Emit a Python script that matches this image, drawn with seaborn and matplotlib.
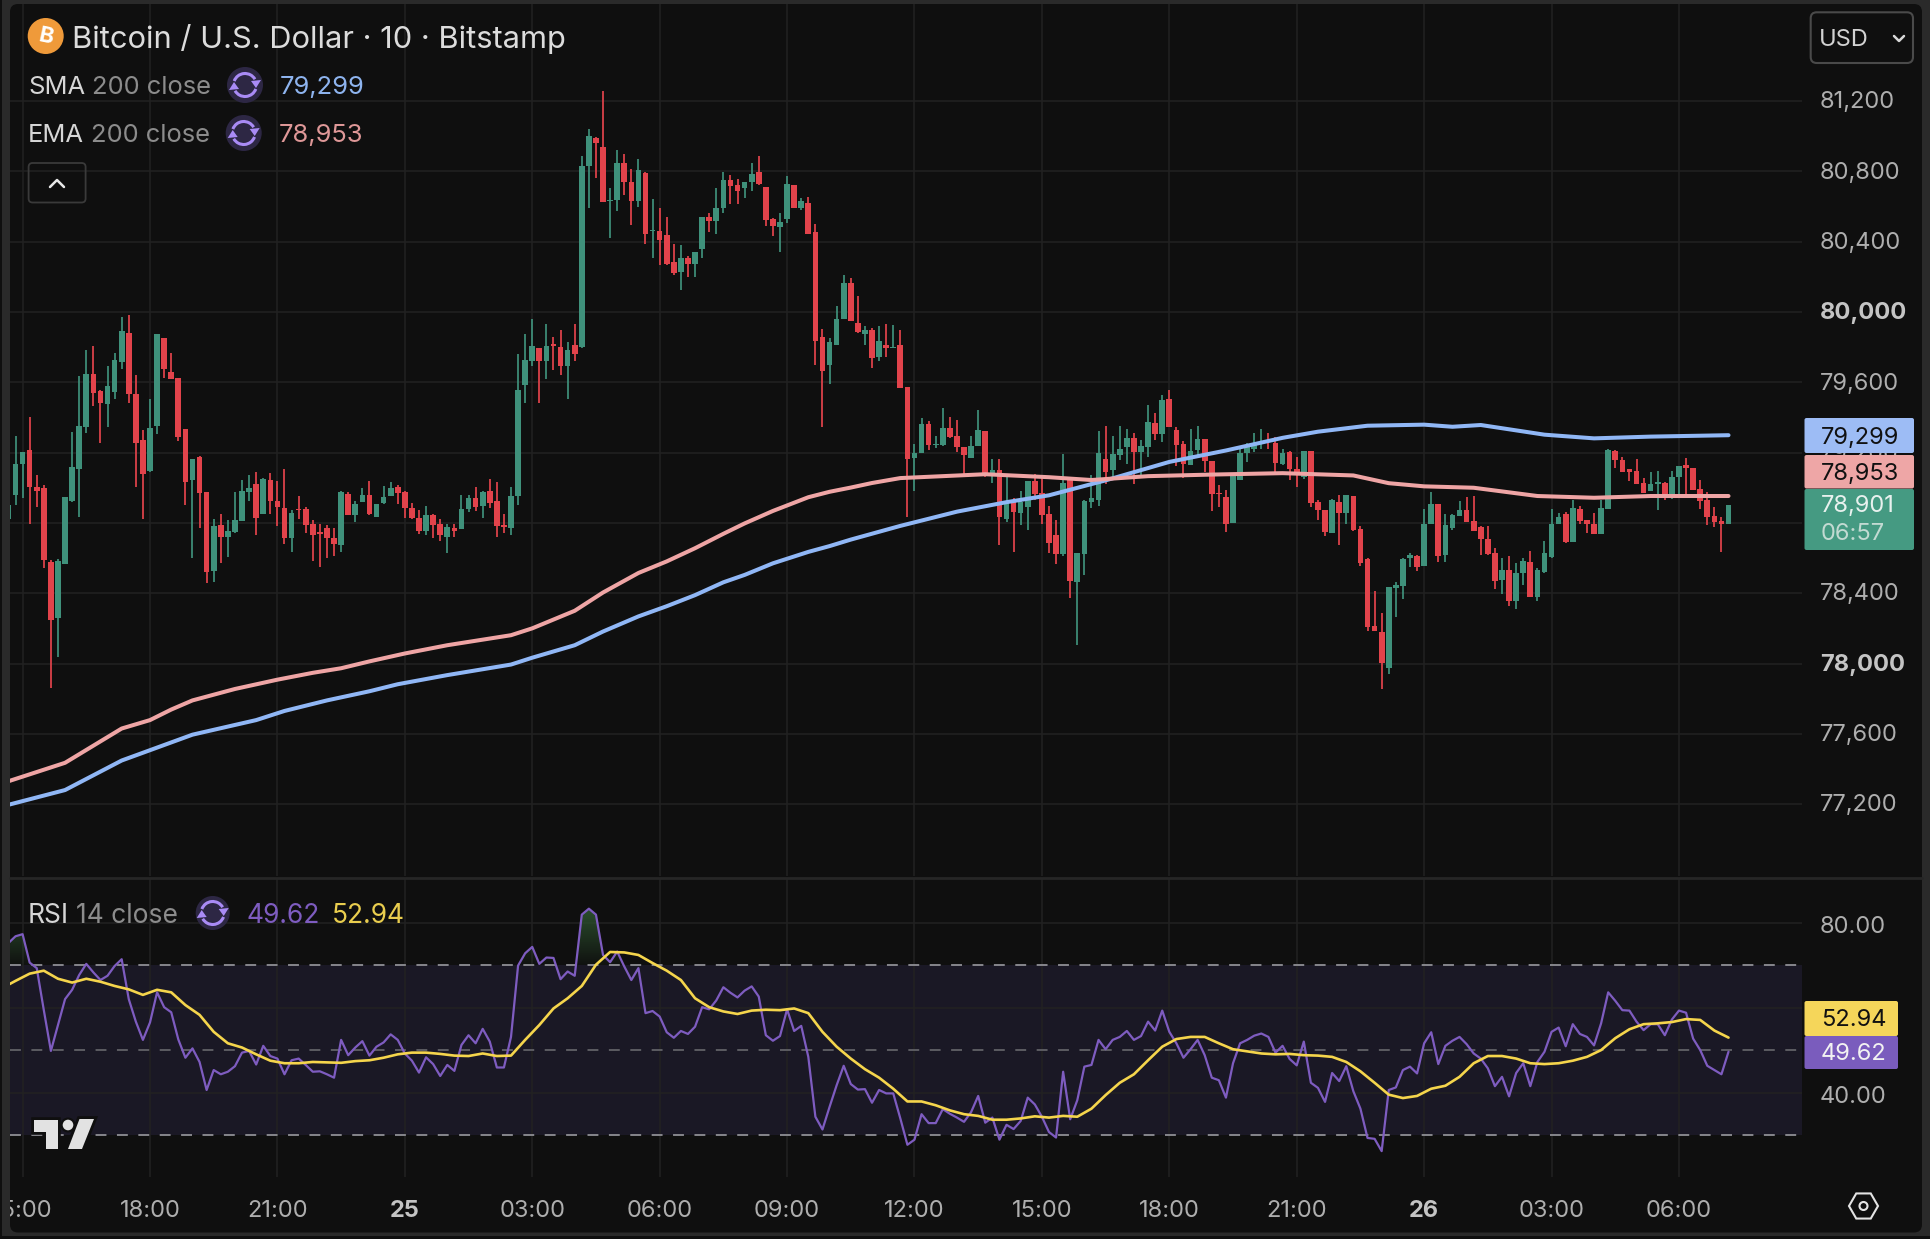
import numpy as np
import pandas as pd
import matplotlib
matplotlib.use("Agg")
import matplotlib.pyplot as plt
import seaborn as sns
from matplotlib.colors import LinearSegmentedColormap
from matplotlib.patches import Arc, Circle, FancyBboxPatch, Polygon, Rectangle, RegularPolygon
from matplotlib.path import Path
from matplotlib.transforms import Affine2D, Bbox

# 10 minute candles, index 0 is the one clipped at the left edge
opens = [
    78820,78957,79135,79213,79004,78999,78579,78260,78566,78926,
    79109,79344,79650,79553,79475,79546,79718,79880,79532,79271,
    79096,79349,79854,79658,79624,79336,79044,79177,78978,78526,
    78788,78722,78751,78809,78973,79020,78853,79044,78926,78882,
    78712,78879,78879,78796,78749,78769,78712,78673,78965,78843,
    78918,78957,78835,78913,78952,79004,78973,78887,78829,78756,
    78843,78796,78722,78769,78764,78879,78939,78895,78984,78926,
    78788,78769,78952,79584,79720,79798,79720,79819,79801,79691,
    79814,79801,80833,80990,80937,80634,80640,80846,80741,80632,
    80790,80462,80459,80438,80283,80229,80305,80272,80359,80538,
    80518,80590,80753,80721,80703,80738,80795,80714,80529,80481,
    80529,80721,80590,80623,80453,79858,79697,79811,79959,80163,
    79935,79872,79898,79745,79815,79795,79811,79571,79168,79197,
    79360,79245,79245,79338,79292,79234,79168,79240,79321,79066,
    79103,78820,78929,78857,78892,79038,78968,78853,78729,78624,
    79049,78465,78624,78918,78929,79162,79103,79186,79234,79282,
    79205,79234,79369,79303,79506,79327,79249,79131,79216,79277,
    79151,78968,78946,78798,79042,79195,79223,79260,79271,79255,
    79136,79206,79108,79060,79211,78919,78876,78745,78919,78857,
    78953,78764,78592,78215,78177,77975,78428,78442,78598,78611,
    78555,78796,78906,78617,78772,78840,78872,78811,78774,78708,
    78630,78475,78532,78357,78513,78579,78377,78523,78608,78792,
    78853,78689,78881,78815,78792,78734,78877,79211,79160,79108,
    79094,79027,78981,79023,79027,78943,79060,79132,79111,78991,
    78928,78838,78809,78792,
]
highs = [
    78965,79292,79206,79401,79070,79018,78587,78592,78947,79318,
    79637,79783,79806,79558,79691,79767,79971,79984,79640,79331,
    79506,79875,79854,79767,79624,79336,79166,79182,78978,78822,
    78853,78814,78978,79044,79070,79088,79057,79083,79036,79104,
    78874,78952,78892,78814,78796,78788,78769,78984,78978,78926,
    78999,79038,78908,79010,79031,79018,78984,78913,78874,78895,
    78848,78822,78796,78796,78960,78960,79004,78984,79049,79031,
    78848,79004,79762,79875,79963,79798,79932,79858,79900,79827,
    79932,80885,81042,80995,81256,80708,80924,80898,80812,80872,
    80795,80642,80590,80540,80388,80383,80316,80344,80538,80566,
    80703,80795,80777,80758,80742,80845,80890,80714,80533,80562,
    80773,80721,80649,80653,80501,79902,79854,80033,80213,80192,
    80089,79919,79909,79919,79930,79926,79898,79571,79249,79397,
    79380,79292,79451,79401,79384,79234,79292,79440,79321,79162,
    79162,79064,78940,78983,79038,79081,79075,78896,78816,79190,
    79060,78628,78929,79075,79321,79353,79295,79353,79336,79310,
    79271,79469,79425,79528,79556,79343,79266,79336,79353,79277,
    79151,79016,78988,79075,79218,79255,79310,79332,79310,79288,
    79221,79211,79177,79211,79211,78932,78876,78938,78957,78957,
    78953,78783,78598,78415,78287,78438,78466,78598,78630,78617,
    78881,78976,78906,78849,78849,78925,78947,78951,78783,78783,
    78655,78598,78613,78574,78598,78642,78542,78696,78881,78859,
    78862,78932,78894,78819,78857,78932,79221,79217,79177,79108,
    79164,79057,79089,79098,79032,79094,79126,79168,79111,79045,
    78976,78891,78834,78901,
]
lows = [
    78678,78900,78939,78796,78892,78545,77860,78038,78566,78921,
    78835,79313,79467,79253,79344,79506,79678,79480,79004,78822,
    79091,79305,79626,79621,79266,78900,78600,78769,78456,78461,
    78574,78605,78743,78809,78926,78730,78853,78848,78782,78678,
    78634,78822,78743,78581,78547,78600,78613,78634,78843,78803,
    78918,78843,78835,78908,78952,78908,78827,78822,78738,78730,
    78712,78696,78626,78717,78764,78861,78869,78827,78887,78717,
    78743,78730,78900,79482,79694,79482,79617,79670,79640,79506,
    79723,79793,80593,80762,80624,80423,80577,80663,80495,80600,
    80388,80307,80268,80268,80213,80126,80198,80198,80307,80453,
    80446,80562,80612,80612,80647,80686,80721,80492,80431,80340,
    80507,80590,80579,80444,79697,79343,79593,79811,79959,79946,
    79880,79815,79684,79719,79745,79793,79567,78831,78979,79197,
    79214,79227,79240,79284,79201,79060,79168,79240,79060,79027,
    78674,78805,78635,78787,78761,78929,78794,78628,78565,78613,
    78374,78108,78504,78885,78896,79020,79060,79158,79136,79020,
    79066,79175,79271,79262,79345,79125,79055,79131,79184,79092,
    78870,78892,78750,78798,79042,79147,79201,79223,79218,79092,
    79132,79042,79004,79051,78891,78819,78725,78740,78677,78796,
    78755,78555,78183,78183,77853,77938,78264,78366,78547,78526,
    78555,78796,78575,78575,78759,78840,78806,78753,78617,78617,
    78423,78394,78325,78309,78447,78377,78358,78517,78598,78792,
    78683,78689,78796,78743,78734,78734,78877,79111,79089,79038,
    79023,78972,78981,78876,78928,78938,78947,78957,78989,78881,
    78787,78777,78636,78792,
]
closes = [
    78900,79135,79206,79004,78984,78587,78247,78581,78947,79117,
    79349,79650,79540,79482,79579,79728,79893,79532,79253,79078,
    79339,79875,79676,79621,79287,79031,79166,78971,78521,78782,
    78722,78756,78814,78984,78999,78827,79049,78926,78892,78712,
    78856,78874,78790,78730,78738,78712,78678,78973,78843,78908,
    78957,78848,78908,78947,78999,78971,78882,78829,78756,78843,
    78790,78730,78777,78756,78879,78939,78892,78978,78916,78780,
    78777,78952,79558,79728,79809,79720,79804,79809,79691,79783,
    79762,80833,81000,80964,80624,80640,80846,80741,80632,80807,
    80442,80468,80409,80274,80224,80305,80272,80344,80538,80516,
    80594,80749,80716,80688,80742,80788,80729,80522,80490,80514,
    80731,80590,80633,80444,79837,79663,79832,79959,80163,79946,
    79885,79898,79739,79837,79793,79800,79567,79164,79197,79360,
    79245,79251,79338,79288,79232,79186,79240,79327,79066,79099,
    78831,78918,78864,78918,79038,78962,78846,78685,78624,79027,
    78472,78628,78925,78940,79197,79092,79190,79218,79282,79205,
    79240,79375,79303,79499,79345,79245,79136,79208,79277,79151,
    78966,78962,78792,79070,79197,79234,79251,79266,79262,79140,
    79196,79108,79070,79211,78913,78876,78749,78932,78857,78957,
    78759,78574,78208,78187,78004,78434,78447,78592,78617,78551,
    78796,78909,78613,78787,78847,78872,78806,78753,78706,78623,
    78470,78532,78353,78517,78583,78377,78532,78630,78792,78834,
    78689,78887,78811,78792,78734,78885,79215,79160,79089,79089,
    79023,78972,79019,79030,78943,79064,79121,79113,78989,78925,
    78834,78806,78792,78901,
]

# moving averages, read at the candle indexes listed with them
ema_index = [0,8,16,20,23,26,32,38,43,47,51,56,62,71,74,80,84,89,93,97,101,104,108,113,116,
             119,122,126,138,147,153,161,170,180,190,195,200,207,216,224,232,243]
ema_values = [77330,77435,77630,77678,77738,77790,77855,77908,77947,77973,78012,78057,78104,
              78161,78200,78300,78404,78515,78581,78656,78738,78797,78868,78946,78977,79001,
              79027,79055,79077,79060,79044,79066,79075,79083,79070,79026,79008,79000,78953,
              78943,78953,78953]
sma_index = [0,8,16,26,35,39,45,51,55,62,71,74,80,84,89,93,97,101,104,108,113,116,119,126,134,
             141,147,155,164,172,180,185,192,200,204,208,217,224,232,243]
sma_values = [77196,77280,77448,77595,77678,77730,77790,77842,77882,77934,77994,78033,78104,
              78182,78268,78326,78389,78462,78504,78570,78635,78668,78705,78783,78864,78918,
              78957,79042,79147,79212,79284,79319,79353,79359,79347,79357,79302,79281,79291,
              79299]

rsi_values = [
    75.2,76.8,77.3,70.6,69.3,59.4,49.8,55.9,62.0,64.2,
    67.7,70.3,68.3,66.5,67.5,69.8,71.4,62.0,56.7,52.4,
    56.5,63.6,60.1,58.9,52.5,48.2,50.4,47.2,40.6,45.3,
    44.3,44.9,46.2,49.4,49.8,46.6,51.0,48.6,48.0,44.3,
    47.6,48.0,46.5,44.9,45.0,44.3,43.5,52.4,48.8,50.6,
    52.1,48.7,50.8,51.8,53.7,52.4,49.2,47.5,44.7,48.3,
    46.7,43.9,46.5,45.1,51.2,53.5,51.6,55.0,52.0,45.9,
    45.9,53.1,69.9,72.8,74.3,70.3,71.8,71.7,66.7,68.5,
    67.5,81.9,83.3,81.9,72.4,70.7,73.2,69.7,66.5,69.3,
    58.7,59.2,57.9,54.2,52.9,54.5,53.8,55.5,60.1,59.6,
    61.7,64.8,63.5,62.4,64.0,65.0,62.6,53.5,52.2,53.3,
    59.6,54.5,55.7,48.4,34.3,31.3,36.6,41.7,46.3,42.0,
    40.7,40.8,37.6,40.6,39.8,39.8,33.9,27.7,28.9,34.9,
    32.8,32.8,36.1,35.0,34.1,33.1,35.4,39.2,32.9,34.1,
    28.9,32.4,31.4,33.3,38.8,37.2,34.3,30.7,29.4,44.9,
    33.7,38.2,46.1,46.5,52.4,50.2,52.4,53.1,54.5,52.4,
    53.3,56.7,54.6,59.3,54.3,51.6,48.2,50.2,52.4,48.8,
    43.5,42.9,38.8,46.9,51.6,52.4,53.4,53.9,53.1,49.4,
    51.0,47.9,46.4,52.0,42.3,41.1,37.8,44.6,42.7,46.2,
    40.3,36.2,29.3,29.1,26.2,40.6,41.2,45.3,46.1,44.5,
    51.6,54.2,46.7,51.0,52.2,53.1,51.4,49.2,48.0,45.7,
    41.5,43.7,39.1,44.6,46.9,41.5,47.2,49.6,54.3,55.3,
    50.9,56.1,53.8,53.1,51.1,56.3,63.6,61.6,59.4,59.3,
    56.7,54.7,56.1,56.1,53.5,57.2,59.3,58.8,52.7,50.0,
    46.3,45.3,44.3,49.62,
]

rsi_ma_index = [0] + list(range(1, 244, 2))
rsi_ma_values = [
    65.4,66.3,68.0,68.7,66.8,65.9,66.8,66.1,65.1,64.3,63.0,64.2,63.6,60.6,58.3,54.3,
    51.6,50.6,49.0,47.5,46.9,46.9,47.2,47.1,47.0,47.4,47.6,48.2,49.0,49.4,49.4,49.1,
    48.7,48.6,49.2,48.6,48.7,52.4,55.9,59.8,62.2,65.1,70.1,73.1,73.0,72.4,70.5,68.7,
    66.5,62.2,60.1,59.1,58.5,59.3,59.5,59.4,59.8,58.7,54.3,50.8,48.0,45.5,43.5,40.9,
    37.9,37.9,37.0,35.8,34.9,34.5,33.6,33.6,33.9,34.4,34.1,34.5,34.3,36.2,39.4,42.3,
    44.3,47.6,50.8,52.6,53.1,53.1,51.6,50.2,49.7,49.2,49.0,49.1,48.8,48.7,48.4,47.2,
    45.0,42.3,39.5,38.7,39.2,40.9,41.6,43.7,46.9,48.6,48.6,48.0,46.9,46.7,46.9,47.5,
    48.4,50.0,52.8,54.9,56.1,56.3,56.6,57.3,57.1,54.6,52.94,
]

price_ticks = [81200,80800,80400,80000,79600,79200,78800,78400,78000,77600,77200]
price_labels = ["81,200","80,800","80,400","80,000","79,600","79,200","78,800","78,400",
                "78,000","77,600","77,200"]
rsi_ticks = [80, 60, 40]
rsi_labels = ["80.00", "60.00", "40.00"]
time_ticks = [2,20,38,56,74,92,110,128,146,164,182,200,218,236]
time_labels = ["15:00","18:00","21:00","25","03:00","06:00","09:00","12:00","15:00","18:00",
               "21:00","26","03:00","06:00"]

W, H = 1930, 1239
FRAME = "#2a2a2a"
PANEL = "#0f0f0f"
GRID = "#222222"
UP = "#3f917b"
DOWN = "#e2434b"
SMA_COL = "#90b7f6"
EMA_COL = "#efa5a5"
RSI_COL = "#7e5cc0"
MA_COL = "#f5d54c"
TICK_COL = "#aeaeae"

sns.set_theme(style="dark", rc={"axes.facecolor": "none", "figure.facecolor": FRAME,
                                "savefig.facecolor": FRAME})
plt.rcParams["font.family"] = ["Inter", "DejaVu Sans"]


def rect(l, t, r, b):
    return [l / W, 1 - b / H, (r - l) / W, (b - t) / H]


def pixel_axes(zorder):
    a = fig.add_axes([0, 0, 1, 1], zorder=zorder)
    a.set_xlim(0, W)
    a.set_ylim(H, 0)
    a.axis("off")
    return a


fig = plt.figure(figsize=(W / 100, H / 100), dpi=100)

# panel behind both panes, outer dark strips left and below the frame
bg = pixel_axes(-1)
bg.add_patch(Rectangle((0, 0), 2, H, fc=PANEL, ec="none"))
bg.add_patch(Rectangle((0, 1235.5), W, 4, fc=PANEL, ec="none"))
bg.add_patch(FancyBboxPatch((10, 4), 1912, 1228.5, boxstyle="round,pad=0,rounding_size=8",
                            fc=PANEL, ec="none"))

# --- price pane ---
ax = fig.add_axes(rect(10, 4, 1802, 876), zorder=1)
idx = np.arange(len(opens))
o, h, l, c = map(np.array, (opens, highs, lows, closes))
cols = [UP if cl >= op else DOWN for op, cl in zip(o, c)]
ax.vlines(idx, l, h, colors=cols, lw=1.25, zorder=2)
ax.bar(idx, np.abs(c - o), bottom=np.minimum(o, c), width=0.8, color=cols, linewidth=0, zorder=3)

sma_df = pd.DataFrame({"i": sma_index, "v": sma_values})
ema_df = pd.DataFrame({"i": ema_index, "v": ema_values})
sns.lineplot(data=sma_df, x="i", y="v", ax=ax, color=SMA_COL, linewidth=2.9, estimator=None, zorder=4)
sns.lineplot(data=ema_df, x="i", y="v", ax=ax, color=EMA_COL, linewidth=2.9, estimator=None, zorder=4)

x_left, x_right = 0.2225, 253.38
per_px = 400 / 70.3
ax.set_xlim(x_left, x_right)
ax.set_ylim(80000 + (312 - 876) * per_px, 80000 + (312 - 4) * per_px)
ax.set_xlabel("")
ax.set_ylabel("")
ax.set_xticks(time_ticks)
ax.yaxis.tick_right()
ax.set_yticks(price_ticks)
ax.set_yticklabels(price_labels)
ax.tick_params(axis="x", length=0, labelbottom=False)
ax.tick_params(axis="y", length=0, pad=13, labelsize=17, labelcolor=TICK_COL)
for t, txt in zip(ax.get_yticklabels(), price_labels):
    t.set_transform(t.get_transform() + Affine2D().translate(0, 1.3))
    if txt in ("80,000", "78,000"):
        t.set_fontweight("bold")
        t.set_color("#c4c4c4")
ax.grid(True, color=GRID, lw=1.1)
ax.set_axisbelow(True)
sns.despine(ax=ax, left=True, right=True, top=True, bottom=True)

# --- RSI pane ---
ax2 = fig.add_axes(rect(10, 879, 1802, 1177), zorder=1)
ax2.axhspan(30, 70, color="#1a1825", lw=0, zorder=0.2)
rsi = np.array(rsi_values)
rsi_df = pd.DataFrame({"i": idx, "v": rsi})
ma_df = pd.DataFrame({"i": rsi_ma_index, "v": rsi_ma_values})

poly = ax2.fill_between(idx, rsi, 70, where=rsi > 70, interpolate=True, color="none", lw=0)
clip = Path.make_compound_path(*poly.get_paths())
cmap = LinearSegmentedColormap.from_list("ob", [(0.17, 0.31, 0.18, 0.05), (0.17, 0.31, 0.18, 1.0)])
img = ax2.imshow(np.linspace(0, 1, 64).reshape(-1, 1), extent=[0, 243, 70, 83.3], origin="lower",
                 aspect="auto", cmap=cmap, zorder=1)
img.set_clip_path(clip, transform=ax2.transData)

for lev, col in ((70, "#86868c"), (50, "#5c5c62"), (30, "#86868c")):
    ax2.axhline(lev, color=col, lw=1.4, ls=(0, (5.6, 5.4)), zorder=1.5)

sns.lineplot(data=rsi_df, x="i", y="v", ax=ax2, color=RSI_COL, linewidth=1.6, estimator=None, zorder=3)
sns.lineplot(data=ma_df, x="i", y="v", ax=ax2, color=MA_COL, linewidth=1.9, estimator=None, zorder=4)

rsi_px = (1135 - 922.7) / 50
ax2.set_xlim(x_left, x_right)
ax2.set_ylim(30 - 42 / rsi_px, 80 + 43.7 / rsi_px)
ax2.set_xlabel("")
ax2.set_ylabel("")
ax2.yaxis.tick_right()
ax2.set_yticks(rsi_ticks)
ax2.set_yticklabels(rsi_labels)
ax2.set_xticks(time_ticks)
ax2.set_xticklabels(time_labels)
ax2.tick_params(axis="y", length=0, pad=13, labelsize=17, labelcolor=TICK_COL)
ax2.tick_params(axis="x", length=0, pad=16.5, labelsize=17, labelcolor=TICK_COL)
for t in ax2.get_yticklabels():
    t.set_transform(t.get_transform() + Affine2D().translate(0, -1.8))
for t, txt in zip(ax2.get_xticklabels(), time_labels):
    t.set_clip_box(Bbox([[10, 0], [1922, H]]))
    t.set_clip_on(True)
    if txt in ("25", "26"):
        t.set_fontweight("bold")
        t.set_color("#c4c4c4")
ax2.grid(True, color=GRID, lw=1.1)
ax2.set_axisbelow(True)
sns.despine(ax=ax2, left=True, right=True, top=True, bottom=True)

# --- overlay: legends, tags and icons ---
ov = pixel_axes(10)
ov.plot([10, 1922], [877.5, 877.5], color="#262626", lw=2)


def label(x, y, s, color, size=18.4, **kw):
    ov.text(x, y, s, color=color, fontsize=size, va="center_baseline", ha="left", **kw)


def refresh_icon(cx, cy, r=18):
    ov.add_patch(Circle((cx, cy), r, fc="#2d2744", ec="none"))
    for start in (200, 20):
        ov.add_patch(Arc((cx, cy), 23, 23, theta1=start, theta2=start + 130, ec="#a98bf5", lw=2.2))
    ov.add_patch(Polygon([(cx + 6, cy - 4), (cx + 16, cy - 5), (cx + 11, cy + 3)], fc="#a98bf5", ec="none"))
    ov.add_patch(Polygon([(cx - 6, cy + 4), (cx - 16, cy + 5), (cx - 11, cy - 3)], fc="#a98bf5", ec="none"))


def tag(t, b, color, left=1804.5, right=1914):
    ov.add_patch(FancyBboxPatch((left, t), right - left, b - t, boxstyle="round,pad=0,rounding_size=2",
                                fc=color, ec="none"))


ov.add_patch(Circle((45.7, 36), 18, fc="#ef9a3a", ec="none"))
ov.text(45.7, 36.5, "B", color="white", fontsize=16, fontweight="bold", rotation=-12,
        ha="center", va="center")
label(72.5, 36.5, "Bitcoin / U.S. Dollar · 10 · Bitstamp", "#dcdcdc", size=22.2)

label(28, 85, "SMA", "#d6d6d6")
label(91.8, 85, "200 close", "#8c8c8c")
refresh_icon(245, 85)
label(279.6, 85, "79,299", "#8eb4ef")
label(28, 133, "EMA", "#d6d6d6")
label(90.6, 133, "200 close", "#8c8c8c")
refresh_icon(243.7, 133)
label(279, 133, "78,953", "#df9898")

ov.add_patch(FancyBboxPatch((28.6, 163), 57, 39.5, boxstyle="round,pad=0,rounding_size=4",
                            fc="none", ec="#3a3a3a", lw=1.3))
ov.plot([50, 57, 64], [187, 180, 187], color="#e8e8e8", lw=1.8)

ov.add_patch(FancyBboxPatch((1810.7, 12.3), 102.3, 50.7, boxstyle="round,pad=0,rounding_size=6",
                            fc=PANEL, ec="#4a4a4a", lw=1.5))
label(1819, 38, "USD", "#d2d2d2", size=17)
ov.plot([1894, 1899, 1904], [36, 41, 36], color="#d8d8d8", lw=1.8)

tag(418, 453, "#9dbcf5")
tag(455, 488.5, "#eea6a6")
tag(489, 550, "#459a82")
label(1821, 435, "79,299", "#111111", size=17)
label(1821, 471, "78,953", "#111111", size=17)
label(1821, 504, "78,901", "#e8f1ee", size=17)
label(1821, 532, "06:57", "#c2dad2", size=17)

label(28, 913, "RSI", "#d6d6d6", size=19)
label(76.3, 913, "14 close", "#8c8c8c", size=19)
refresh_icon(212.7, 913, r=17)
label(246, 913, "49.62", RSI_COL, size=19)
label(332, 913, "52.94", "#e9cd4e", size=19)

tag(1001, 1036, "#f5d65a", right=1898)
tag(1036, 1069, "#7a5cbd", right=1898)
label(1821, 1018, "52.94", "#111111", size=17)
label(1821, 1052, "49.62", "#f2f2f2", size=17)

# TradingView mark, dark halo first
logo = "#e2e2e2"
t_shape = [(34, 1120), (58, 1120), (58, 1149), (45.5, 1149), (45.5, 1131.5), (34, 1131.5)]
slash = [(79.5, 1119), (94, 1119), (82, 1149), (68, 1149)]
for shape in (t_shape, slash):
    ov.add_patch(Polygon(shape, fc=PANEL, ec=PANEL, lw=4))
ov.add_patch(Circle((68, 1125), 7.5, fc=PANEL, ec="none"))
ov.add_patch(Polygon(t_shape, fc=logo, ec="none"))
ov.add_patch(Polygon(slash, fc=logo, ec="none"))
ov.add_patch(Circle((68, 1125), 5.3, fc=logo, ec="none"))

ov.add_patch(RegularPolygon((1863.5, 1206), 6, radius=14.5, orientation=np.pi / 2, fc="none",
                            ec="#e4e4e4", lw=1.5))
ov.add_patch(Circle((1863.5, 1206), 4, fc="none", ec="#e4e4e4", lw=1.5))

fig.savefig("out.png", dpi=100)
